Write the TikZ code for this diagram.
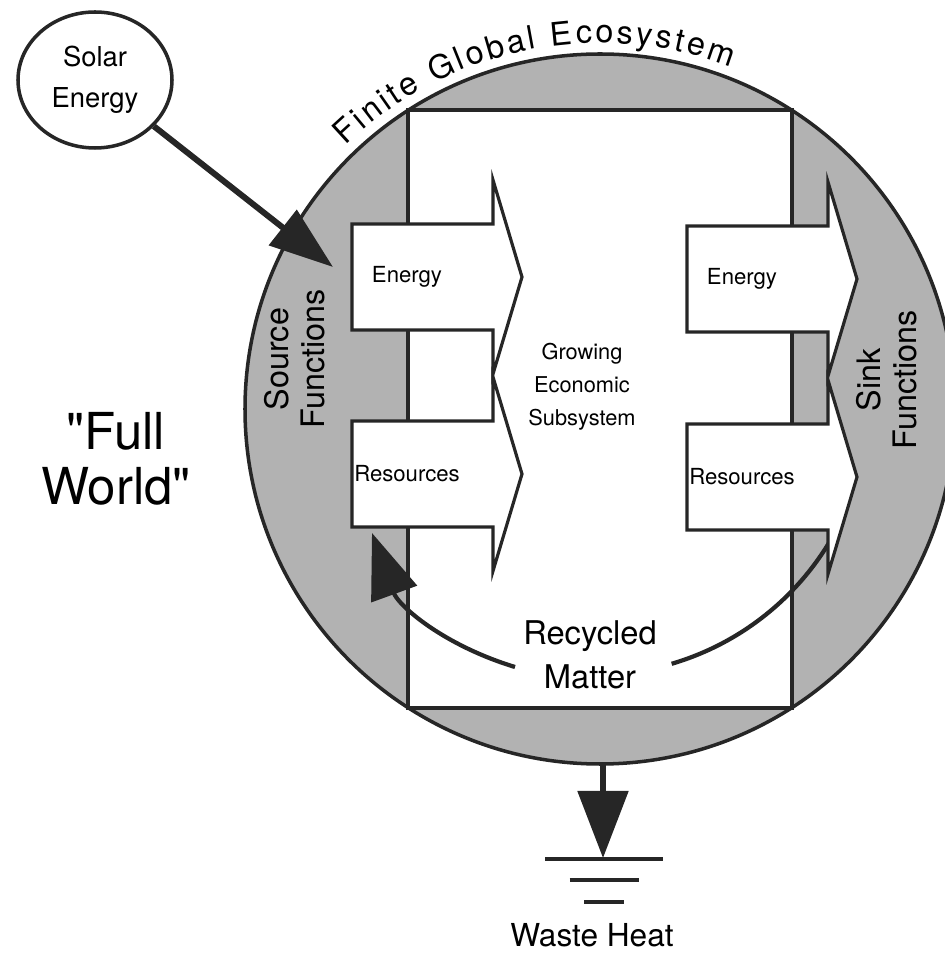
\documentclass[tikz,border=0pt]{standalone}
\usepackage{fontspec}
\setmainfont{TeX Gyre Heros}
\newfontfamily\plainheros{TeX Gyre Heros}
\usetikzlibrary{arrows.meta,shapes.geometric,decorations.text,calc}

\begin{document}
\begin{tikzpicture}[line width=0.8pt]

  \tikzset{
    ring/.style  = {fill=black!30},
    frame/.style = {draw=black!85, line width=1pt},
    flow/.style  = {draw=black!85, fill=white, line width=0.9pt, line join=miter},
    tag/.style   = {font=\fontsize{6.3}{7}\selectfont, inner sep=0pt},
    side/.style  = {font=\fontsize{9.2}{10.2}\selectfont, align=center,
                    rotate=90, inner sep=0pt},
    feed/.style  = {draw=black!85, line width=1.7pt,
                    -{Triangle[length=6.4mm,width=4.4mm]}},
    loop/.style  = {draw=black!85, line width=1.2pt},
    rung/.style  = {draw=black!85, line width=1.3pt},
  }

  \def\R{3.55}      % radius of the ecosystem
  \def\bl{1.41}     % body length of a flow arrow
  \def\hl{1.70}     % tail to tip
  \def\bh{0.53}     % half body height
  \def\hh{0.97}     % half head height

  \clip (0,0) rectangle (9.45,9.55);

  % ---- ecosystem and the economy inside it ------------------------------
  \coordinate (eco) at (6.00,5.46);
  \fill[ring] (eco) circle (\R);
  \node[frame, fill=white, minimum width=3.84cm, minimum height=5.98cm,
        inner sep=0pt] (sub) at (eco) {};
  \node[font=\fontsize{6.2}{9.4}\selectfont, align=center] (grow) at (5.82,5.68)
    {Growing\\Economic\\Subsystem};

  % ---- recycled matter (under the flows) --------------------------------
  \coordinate (rc) at (5.94,5.55);
  \coordinate (recin)  at ($(rc)+(-28:2.75)$);
  \coordinate (recout) at (5.15,2.88);
  \coordinate (rectip) at (3.72,4.22);
  \node[font=\fontsize{9.3}{12.5}\selectfont, align=center] (recyc) at (5.90,3.00)
    {Recycled\\Matter};
  \draw[loop] (recin) arc[start angle=-28, end angle=-73.6, radius=2.75];
  \draw[loop, -{Triangle[length=6.5mm,width=4.8mm]}] (recout)
    to[out=163,in=-70] (rectip);

  % ---- source and sink flows --------------------------------------------
  \foreach \x/\y/\n/\t in {3.52/6.78/srcE/Energy, 3.52/4.81/srcR/Resources,
                           6.87/6.76/snkE/Energy, 6.87/4.78/snkR/Resources} {
    \draw[flow] (\x,\y-\bh) -- (\x+\bl,\y-\bh) -- (\x+\bl,\y-\hh) -- (\x+\hl,\y)
      -- (\x+\bl,\y+\hh) -- (\x+\bl,\y+\bh) -- (\x,\y+\bh) -- cycle;
    \node[tag] (\n) at (\x+0.55,\y) {\t};
  }

  \node[side] (source) at (2.95,5.96) {Source\\Functions};
  \node[side] (sink)   at (8.87,5.75) {Sink\\Functions};

  \draw[frame] (eco) circle (\R);
  \path[decorate, decoration={text along path, text align=fit to path,
        text={|\fontsize{9.2}{10}\selectfont|Finite Global Ecosystem}}]
    ($(eco)+(134:3.66)$) arc[start angle=134, end angle=69, radius=3.66];

  % ---- sun in, heat out -------------------------------------------------
  \node[draw=black!85, ellipse, line width=1pt, minimum width=1.54cm,
        minimum height=1.36cm, inner sep=0pt, align=center,
        font=\fontsize{7.8}{11.7}\selectfont] (sun) at (0.95,8.75)
    {Solar\\Energy};
  \coordinate (sunhit) at (3.33,6.88);
  \draw[feed] (sun) -- (sunhit);

  \node[font=\plainheros\fontsize{14.5}{15.6}\selectfont, align=center] (full)
    at (1.16,4.96) {"Full\\World"};

  \coordinate (drain) at (6.03,1.91);
  \coordinate (earth) at (6.03,0.97);
  \draw[draw=black!85, line width=1.5pt,
        -{Triangle[length=6.7mm,width=5mm]}] (drain) -- (earth);
  \foreach \y/\w in {0.96/0.59, 0.75/0.345, 0.53/0.20}
    \draw[rung] (6.04-\w,\y) -- (6.04+\w,\y);
  \node[font=\fontsize{9}{10}\selectfont, anchor=base] (heat) at (5.92,0.08)
    {Waste Heat};

\end{tikzpicture}
\end{document}
